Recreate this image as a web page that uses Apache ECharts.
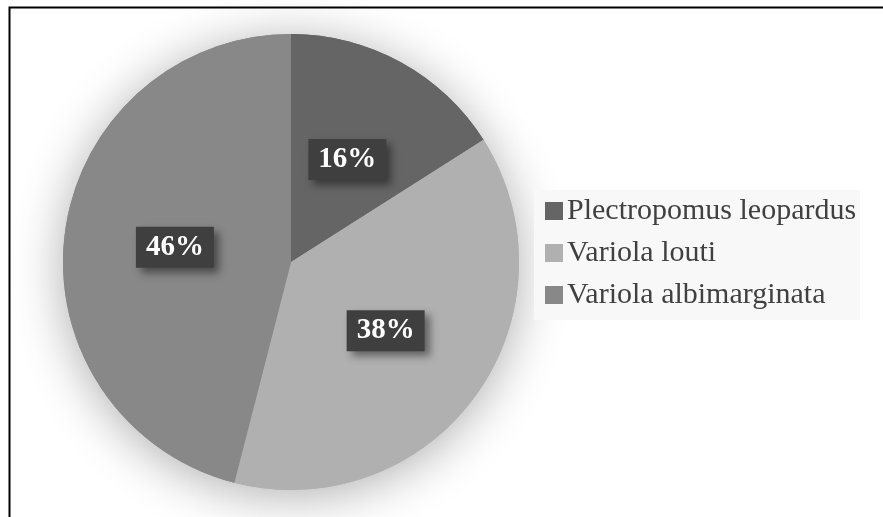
<!DOCTYPE html>
<html>
<head>
<meta charset="utf-8">
<script src="https://cdn.jsdelivr.net/npm/echarts@6/dist/echarts.min.js"></script>
<style>
  html, body { margin: 0; padding: 0; background: #fff; }
  #main { width: 883px; height: 517px; }
</style>
</head>
<body>
<div id="main"></div>
<script>
// species share (%)
const species = ['Plectropomus leopardus', 'Variola louti', 'Variola albimarginata']
const shares = [16, 38, 46]
const sliceColors = ['#656565', '#b0b0b0', '#888888']

const chart = echarts.init(document.getElementById('main'))

const pieData = species.map((name, i) => ({
  name: name,
  value: shares[i],
  itemStyle: { color: sliceColors[i] }
}))

const option = {
  backgroundColor: '#fff',
  animation: false,
  graphic: [{
    type: 'rect',
    left: 7,
    top: 5,
    shape: { width: 900, height: 600 },
    style: { fill: 'none', stroke: '#000', lineWidth: 2 },
    z: 100
  }],
  legend: {
    orient: 'vertical',
    left: 534,
    top: 190,
    backgroundColor: '#f8f8f8',
    padding: [6, 4, 10, 11],
    itemWidth: 18,
    itemHeight: 18,
    itemGap: 12,
    icon: 'rect',
    data: species,
    textStyle: {
      fontFamily: 'Liberation Serif',
      fontSize: 30,
      lineHeight: 30,
      color: '#404040',
      padding: [0, 0, 0, -1]
    }
  },
  series: [
    {
      // soft halo under the pie
      type: 'pie',
      silent: true,
      center: [291, 262],
      radius: 228,
      startAngle: 90,
      clockwise: true,
      z: 1,
      label: { show: false },
      labelLine: { show: false },
      itemStyle: {
        shadowBlur: 50,
        shadowOffsetY: 6,
        shadowColor: 'rgba(0,0,0,0.32)'
      },
      data: pieData
    },
    {
      type: 'pie',
      center: [291, 262],
      radius: 228,
      startAngle: 90,
      clockwise: true,
      z: 2,
      itemStyle: { borderWidth: 0 },
      label: {
        show: true,
        position: 'inside',
        formatter: p => Math.round(p.percent) + '%',
        fontFamily: 'Liberation Serif',
        fontWeight: 'bold',
        fontSize: 29,
        lineHeight: 29,
        color: '#fff',
        backgroundColor: '#3f3f3f',
        padding: [6, 10, 6, 10],
        shadowColor: 'rgba(0,0,0,0.45)',
        shadowBlur: 8,
        shadowOffsetX: 5,
        shadowOffsetY: 5
      },
      labelLine: { show: false },
      emphasis: { disabled: true },
      data: pieData
    }
  ]
}

chart.setOption(option)
</script>
</body>
</html>
